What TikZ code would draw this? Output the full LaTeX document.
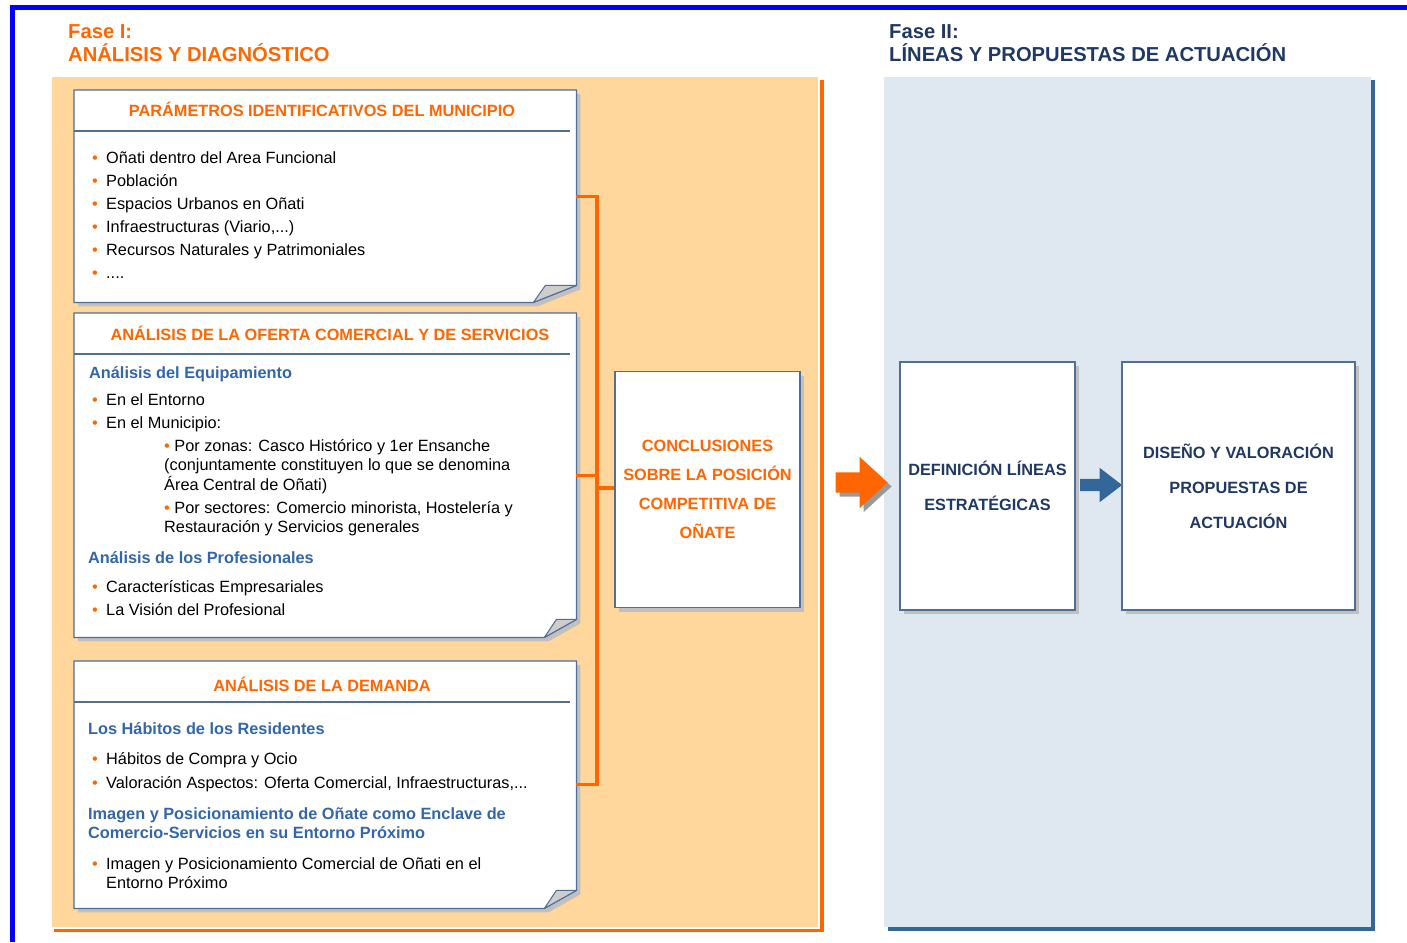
\documentclass[tikz,border=0pt]{standalone}
\usepackage{fontspec}
\setmainfont{Liberation Sans}
\usetikzlibrary{positioning,shapes.arrows,shadows}
\definecolor{naranja}{RGB}{255,102,0}
\definecolor{crema}{RGB}{255,214,155}
\definecolor{azulosc}{RGB}{31,56,100}
\definecolor{azul}{RGB}{51,102,153}
\definecolor{azulsub}{RGB}{51,102,170}
\definecolor{pizarra}{RGB}{80,110,150}
\definecolor{grisfondo}{RGB}{223,231,240}
\definecolor{sombra}{RGB}{192,192,192}
\definecolor{pliegue}{RGB}{205,205,205}
\newcommand\bul{\makebox[14pt][l]{\textcolor{naranja}{\textbullet}}}
\newcommand\subbul{\textcolor{naranja}{\textbullet}\ }
\newcommand\tres{...}
% hoja con la esquina doblada: nodo, ancho y alto del pliegue
\newcommand\hojadoblada[3]{%
  \fill[sombra] ([shift={(4,4)}]#1.north west) -- ([shift={(4,4)}]#1.north east)
    -- ([shift={(4,4-#3)}]#1.south east) -- ([shift={(4-#2,4)}]#1.south east)
    -- ([shift={(4,4)}]#1.south west) -- cycle;
  \filldraw[fill=white,draw=pizarra,line width=1.3pt] (#1.north west) -- (#1.north east)
    -- ([shift={(0,-#3)}]#1.south east) -- ([shift={(-#2,0)}]#1.south east)
    -- (#1.south west) -- cycle;
  \filldraw[fill=pliegue,draw=pizarra,line width=1pt,line join=round] ([shift={(-#2,0)}]#1.south east)
    -- ++(12,-#3) -- ([shift={(0,-#3)}]#1.south east) -- cycle;
  \draw[pizarra,line width=1.3pt] ([shift={(0,41)}]#1.north west) -- ([shift={(-6,41)}]#1.north east);
}

\begin{document}
\begin{tikzpicture}[x=1pt,y=-1pt,font=\fontsize{16.3}{19.5}\selectfont]
    \tikzset{ln/.style={anchor=base west,inner sep=0pt},
             tit/.style={anchor=base,inner sep=0pt,text=naranja,font=\fontsize{16.3}{19.5}\selectfont\bfseries},
             sub/.style={ln,text=azulsub,font=\fontsize{16.3}{19.5}\selectfont\bfseries},
             fase/.style={ln,font=\fontsize{20.2}{23}\selectfont\bfseries},
             hoja/.style={anchor=north west,inner sep=0pt,minimum width=502},
             caja/.style={draw=pizarra,line width=1.3pt,fill=white,align=center,
               drop shadow={shadow xshift=4pt,shadow yshift=-4pt,fill=sombra,opacity=1}},
             brk/.style={naranja,line width=3.2pt}}
    \useasboundingbox (0,0) rectangle (1407,942);
    % fondos de las dos fases
    \node[anchor=north west,inner sep=0pt,fill=crema,minimum width=766,minimum height=850] (f1) at (52,77) {};
    \draw[naranja,line width=3.5pt] ([shift={(3.5,3)}]f1.north east) |- ([shift={(2,3)}]f1.south west);
    \node[anchor=north west,inner sep=0pt,fill=grisfondo,minimum width=487,minimum height=850] (f2) at (884,77) {};
    \draw[azul,line width=4pt] ([shift={(2,3)}]f2.north east) |- ([shift={(4,2)}]f2.south west);
    \draw[blue,line width=5pt] (1407,7.5) -| (12.5,942);
    \node[fase,text=naranja] (t1a) at (68,39) {Fase I:};
    \node[fase,text=naranja] (t1b) at (68,62) {ANÁLISIS Y DIAGNÓSTICO};
    \node[fase,text=azulosc] (t2a) at (889,39) {Fase II:};
    \node[fase,text=azulosc] (t2b) at (889,62) {LÍNEAS Y PROPUESTAS DE ACTUACIÓN};
    % las tres hojas de la fase I
    \node[hoja,minimum height=212] (par) at (74,90) {};
    \node[hoja,minimum height=324] (ofe) at (74,313) {};
    \node[hoja,minimum height=247] (dem) at (74,661) {};
    \hojadoblada{par}{43}{17}
    \hojadoblada{ofe}{32}{18}
    \hojadoblada{dem}{32}{18}
    \node[tit] (tpar) at (322,116) {PARÁMETROS IDENTIFICATIVOS DEL MUNICIPIO};
    \foreach \t [count=\i] in {Oñati dentro del Area Funcional,Población,Espacios Urbanos en Oñati,
        {Infraestructuras (Viario,\tres)},Recursos Naturales y Patrimoniales,.\tres}
      \node[ln] (par\i) at (92,140+23*\i) {\bul\t};
    \node[tit] (tofe) at (330,340) {ANÁLISIS DE LA OFERTA COMERCIAL Y DE SERVICIOS};
    \node[sub] (equ) at (89,378) {Análisis del Equipamiento};
    \node[ln] (ent) at (92,405) {\bul En el Entorno};
    \node[ln] (mun) at (92,428) {\bul En el Municipio:};
    \node[ln] (zon1) at (164,451) {\subbul Por zonas: Casco Histórico y 1er Ensanche};
    \node[ln] (zon2) at (164,470.5) {(conjuntamente constituyen lo que se denomina};
    \node[ln] (zon3) at (164,490) {Área Central de Oñati)};
    \node[ln] (sec1) at (164,513) {\subbul Por sectores: Comercio minorista, Hostelería y};
    \node[ln] (sec2) at (164,532) {Restauración y Servicios generales};
    \node[sub] (pro) at (88,563) {Análisis de los Profesionales};
    \node[ln] (pro1) at (92,592) {\bul Características Empresariales};
    \node[ln] (pro2) at (92,615) {\bul La Visión del Profesional};
    \node[tit] (tdem) at (322,691) {ANÁLISIS DE LA DEMANDA};
    \node[sub] (hab) at (88,734) {Los Hábitos de los Residentes};
    \node[ln] (hab1) at (92,764) {\bul Hábitos de Compra y Ocio};
    \node[ln] (hab2) at (92,788) {\bul Valoración Aspectos: Oferta Comercial, Infraestructuras,\tres};
    \node[sub] (ima1) at (88,819) {Imagen y Posicionamiento de Oñate como Enclave de};
    \node[sub] (ima2) at (88,838) {Comercio-Servicios en su Entorno Próximo};
    \node[ln] (ima3) at (92,869) {\bul Imagen y Posicionamiento Comercial de Oñati en el};
    \node[ln] (ima4) at (106,888) {Entorno Próximo};
    % conclusiones
    \node[caja,text=naranja,minimum width=185,minimum height=236,font=\fontsize{16.3}{29}\selectfont\bfseries] (con) at (707.5,489.5)
      {CONCLUSIONES\\SOBRE LA POSICIÓN\\COMPETITIVA DE\\OÑATE};
    \coordinate (esp) at (597,488);
    \draw[brk] (par.east) -| (esp);
    \draw[brk] (dem.east) -| (esp);
    \draw[brk] (ofe.east) -- (ofe.east -| esp);
    \draw[brk] (esp) -- (con.west |- esp);
    % fase II
    \node[single arrow,fill=naranja,inner xsep=0pt,inner ysep=10pt,minimum height=52,single arrow head extend=15.5pt,
      single arrow tip angle=85,drop shadow={shadow xshift=4pt,shadow yshift=-4pt,fill=gray!80,opacity=1}] (fl1) at (856,482.5) {};
    \node[caja,text=azulosc,minimum width=175,minimum height=248,font=\fontsize{16.3}{35}\selectfont\bfseries] (def) at (987.5,486)
      {DEFINICIÓN LÍNEAS\\ESTRATÉGICAS};
    \node[caja,text=azulosc,minimum width=233,minimum height=248,font=\fontsize{16.3}{35}\selectfont\bfseries] (dis) at (1238.5,486)
      {DISEÑO Y VALORACIÓN\\PROPUESTAS DE\\ACTUACIÓN};
    \node[single arrow,fill=azul,inner xsep=0pt,inner ysep=6pt,minimum height=42,single arrow head extend=11pt,
      single arrow tip angle=75] (fl2) at (1097,485) {};
\end{tikzpicture}
\end{document}
